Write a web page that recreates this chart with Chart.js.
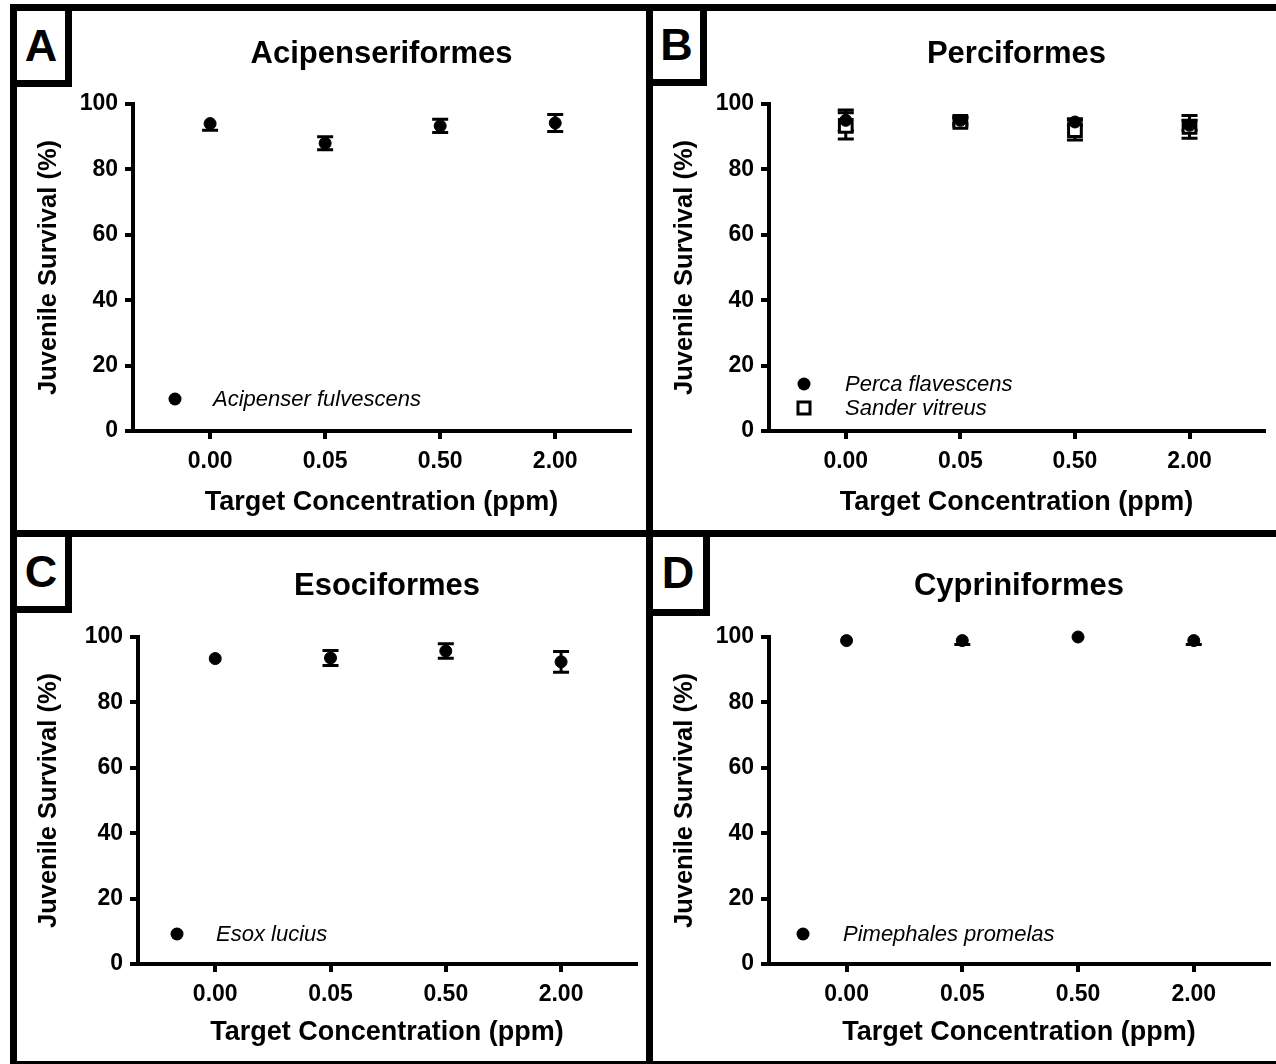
<!DOCTYPE html>
<html>
<head>
<meta charset="utf-8">
<script src="https://cdn.jsdelivr.net/npm/chart.js@4.4.1/dist/chart.umd.min.js"></script>
<style>
  body { margin: 0; background: #fff; width: 1276px; height: 1064px; position: relative; overflow: hidden; font-family: "Liberation Sans", Arial, sans-serif; }
  canvas { position: absolute; }
  .line { position: absolute; background: #000; }
  .tag { position: absolute; box-sizing: border-box; border: 7px solid #000; background: #fff;
         display: flex; align-items: center; justify-content: center; font-weight: bold; font-size: 45px; color: #000; z-index: 2; }
</style>
</head>
<body>
<canvas id="chartA" width="629" height="519" style="left:17px; top:11px;"></canvas>
<canvas id="chartB" width="623" height="519" style="left:653px; top:11px;"></canvas>
<canvas id="chartC" width="629" height="524" style="left:17px; top:537px;"></canvas>
<canvas id="chartD" width="623" height="524" style="left:653px; top:537px;"></canvas>

<div class="line" style="left:10px; top:4px; width:1266px; height:7px;"></div>
<div class="line" style="left:10px; top:4px; width:7px; height:1060px;"></div>
<div class="line" style="left:646px; top:4px; width:7px; height:1060px;"></div>
<div class="line" style="left:10px; top:530px; width:1266px; height:7px;"></div>
<div class="line" style="left:10px; top:1061px; width:1266px; height:3px;"></div>

<div class="tag" style="left:10px; top:4px; width:62px; height:83px;">A</div>
<div class="tag" style="left:646px; top:4px; width:61px; height:82px;">B</div>
<div class="tag" style="left:10px; top:530px; width:62px; height:83px;">C</div>
<div class="tag" style="left:646px; top:530px; width:64px; height:86px;">D</div>

<script>
// x categories (target concentration, ppm)
const concLabels = ['0.00', '0.05', '0.50', '2.00'];

// A - Acipenseriformes
const acipenserMean = [94, 88, 93.3, 94.2];
const acipenserErrUp = [0, 2, 2, 2.6];
const acipenserErrDown = [2, 2, 2, 2.6];

// B - Perciformes
const percaMean = [95, 95, 94.5, 93.5];
const percaErr = [3.2, 1, 1, 1.5];
const sanderMean = [93.3, 94.5, 92, 93];
const sanderErr = [4, 1.2, 3, 3.5];

// C - Esociformes
const esoxMean = [93.4, 93.6, 95.7, 92.4];
const esoxErr = [0, 2.3, 2.2, 3.2];

// D - Cypriniformes
const pimephalesMean = [98.9, 98.9, 100, 98.9];
const pimephalesErrUp = [0, 0, 0, 0];
const pimephalesErrDown = [0, 1.2, 0, 1.2];

const FONT = '"Liberation Sans", Arial, Helvetica, sans-serif';
Chart.defaults.font.family = FONT;
Chart.defaults.color = '#000';

const errorBars = {
    id: 'errorBars',
    beforeDatasetsDraw(chart) {
        const ctx = chart.ctx;
        const xs = chart.scales.x, ys = chart.scales.y;
        ctx.save();
        ctx.strokeStyle = '#000';
        ctx.lineWidth = 3;
        chart.data.datasets.forEach(ds => {
            ds.data.forEach((p, i) => {
                const x = xs.getPixelForValue(p.x);
                const yMid = ys.getPixelForValue(p.y);
                [[ds.errUp[i], 1], [ds.errDown[i], -1]].forEach(([e, dir]) => {
                    if (!e) return;
                    const yEnd = ys.getPixelForValue(p.y + dir * e);
                    ctx.beginPath();
                    ctx.moveTo(x, yMid);
                    ctx.lineTo(x, yEnd);
                    ctx.moveTo(x - 8, yEnd);
                    ctx.lineTo(x + 8, yEnd);
                    ctx.stroke();
                });
            });
        });
        ctx.restore();
    }
};

// title centred over the plot area, legend drawn inside it
const panelText = {
    id: 'panelText',
    afterDatasetsDraw(chart, args, opts) {
        const { ctx, chartArea } = chart;
        ctx.save();
        ctx.fillStyle = '#000';
        ctx.textAlign = 'center';
        ctx.textBaseline = 'middle';
        ctx.font = 'bold 31px ' + FONT;
        ctx.fillText(opts.title, (chartArea.left + chartArea.right) / 2, opts.titleY);

        chart.data.datasets.forEach((ds, i) => {
            const y = chartArea.bottom - opts.rows[i];
            const x = chartArea.left + opts.markerX;
            ctx.lineWidth = 3;
            ctx.strokeStyle = '#000';
            if (ds.pointStyle === 'rect') {
                ctx.fillStyle = '#fff';
                ctx.fillRect(x - 6, y - 6, 12, 12);
                ctx.strokeRect(x - 6, y - 6, 12, 12);
            } else {
                ctx.fillStyle = '#000';
                ctx.beginPath();
                ctx.arc(x, y, 6.5, 0, Math.PI * 2);
                ctx.fill();
            }
            ctx.fillStyle = '#000';
            ctx.font = 'italic 22px ' + FONT;
            ctx.textAlign = 'left';
            ctx.fillText(ds.label, chartArea.left + opts.textX, y + 1);
        });
        ctx.restore();
    }
};

function series(label, mean, up, down, style) {
    return {
        label: label,
        data: mean.map((v, i) => ({ x: i, y: v })),
        errUp: up,
        errDown: down,
        pointStyle: style,
        pointRadius: style === 'rect' ? 9 : 6,
        pointBorderWidth: style === 'rect' ? 3 : 1,
        backgroundColor: style === 'rect' ? '#fff' : '#000',
        borderColor: '#000',
        showLine: false,
        clip: false
    };
}

function makePanel(id, title, datasets, lay) {
    const bold = size => ({ size: size, weight: 'bold' });
    return new Chart(document.getElementById(id), {
        type: 'scatter',
        data: { datasets: datasets },
        options: {
            responsive: false,
            animation: false,
            layout: { padding: { left: 0, right: lay.right, top: lay.top, bottom: 0 } },
            scales: {
                x: {
                    type: 'linear',
                    min: -0.67,
                    max: 3.65,
                    afterBuildTicks: s => { s.ticks = concLabels.map((_, i) => ({ value: i })); },
                    afterFit: s => { s.height = lay.xHeight; },
                    ticks: { callback: v => concLabels[v], font: bold(23), padding: 9, color: '#000', maxRotation: 0 },
                    grid: { drawOnChartArea: false, tickLength: 8, color: '#000', lineWidth: 4 },
                    border: { color: '#000', width: 4 },
                    title: { display: true, text: 'Target Concentration (ppm)', font: bold(27), color: '#000', padding: { top: 0, bottom: lay.xTitlePad } }
                },
                y: {
                    min: 0,
                    max: 100,
                    afterFit: s => { s.width = lay.left; },
                    ticks: { stepSize: 20, font: bold(23), padding: 7, color: '#000' },
                    grid: { drawOnChartArea: false, tickLength: 8, color: '#000', lineWidth: 4 },
                    border: { color: '#000', width: 4 },
                    title: { display: true, text: 'Juvenile Survival (%)', font: bold(25.5), color: '#000', padding: { top: 17, bottom: 0 } }
                }
            },
            plugins: {
                legend: { display: false },
                tooltip: { enabled: false },
                title: { display: false },
                panelText: Object.assign({ title: title }, lay.text)
            }
        },
        plugins: [errorBars, panelText]
    });
}

makePanel('chartA', 'Acipenseriformes', [
    series('Acipenser fulvescens', acipenserMean, acipenserErrUp, acipenserErrDown, 'circle')
], { left: 116, right: 16, top: 93, xHeight: 99, xTitlePad: 11,
     text: { titleY: 43, markerX: 42, textX: 80, rows: [32] } });

makePanel('chartB', 'Perciformes', [
    series('Perca flavescens', percaMean, percaErr, percaErr, 'circle'),
    series('Sander vitreus', sanderMean, sanderErr, sanderErr, 'rect')
], { left: 116, right: 6, top: 93, xHeight: 99, xTitlePad: 11,
     text: { titleY: 43, markerX: 35, textX: 76, rows: [47, 23] } });

makePanel('chartC', 'Esociformes', [
    series('Esox lucius', esoxMean, esoxErr, esoxErr, 'circle')
], { left: 121, right: 10, top: 100, xHeight: 97, xTitlePad: 12,
     text: { titleY: 49, markerX: 39, textX: 78, rows: [30] } });

makePanel('chartD', 'Cypriniformes', [
    series('Pimephales promelas', pimephalesMean, pimephalesErrUp, pimephalesErrDown, 'circle')
], { left: 116, right: 6, top: 100, xHeight: 97, xTitlePad: 12,
     text: { titleY: 49, markerX: 34, textX: 74, rows: [30] } });
</script>
</body>
</html>
